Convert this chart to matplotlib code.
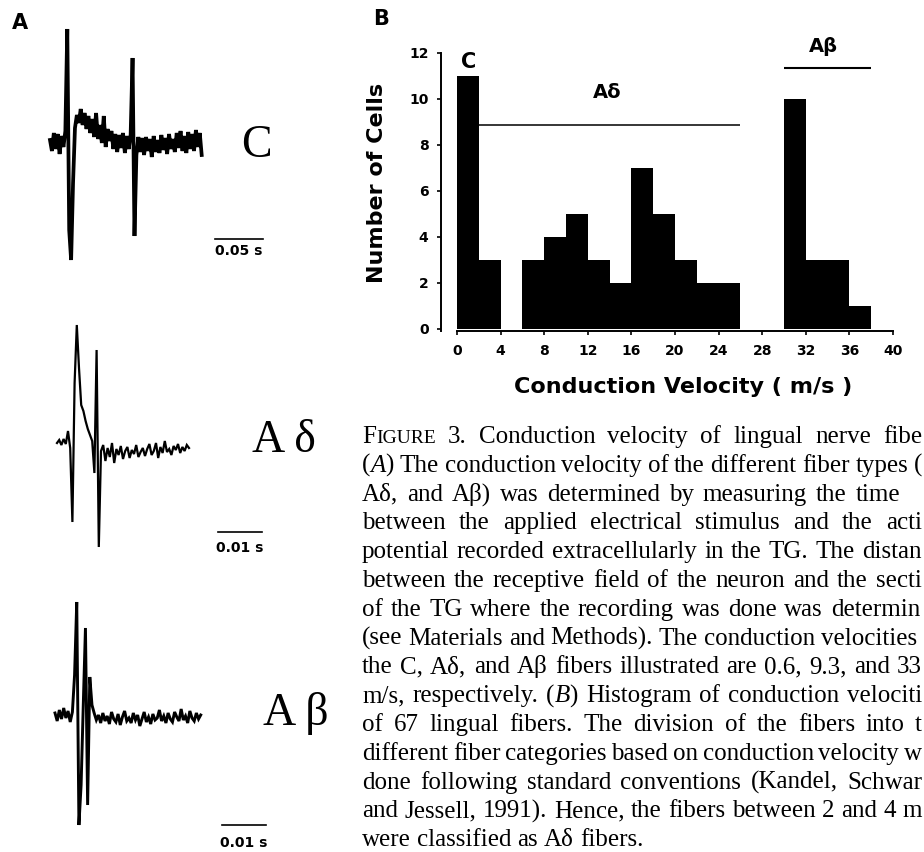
import re
import numpy as np
import matplotlib
matplotlib.use('Agg')
import matplotlib.pyplot as plt

W, H = 924, 852

# conduction velocity histogram, 2 m/s bins
bin_edges = np.arange(0, 40, 2)
cell_counts = [11, 3, 0, 3, 4, 5, 3, 2, 7, 5, 3, 2, 2, 0, 0, 10, 3, 3, 1, 0]

# example recordings (arbitrary units, baseline = 0)
c_dt = 2.0  # ms
c_trace = [3, -8, 10, -6, 9, -11, 7, -4, 12, 114, -87, -117, -40, 15,
           28, 20, 34, 18, 30, 14, 27, 10, 24, 6, 30, 4, 18, 0, 27, -4,
           14, 2, 12, -6, 9, -9, 8, -5, 10, -10, 7, -6, 8, 85, -93, -12,
           6, -9, 5, -12, 6, -8, 4, -14, 7, -9, 3, -10, 8, -7, 5, -11,
           9, -6, 4, -9, 10, -5, 12, -8, 7, -10, 11, -6, 9, -8, 13, -4,
           10, -12]

ad_dt = 0.5  # ms
ad_trace = [0, 3, -2, 4, -1, 12, -5, -79, 60, 118, 75, 38, 32, 22, 14, 8,
            2, -30, 93, -104, -8,
            -2, -18, -5, -14, 0, -20, -6, -12, -3, -16, -8, -4, -15, -7,
            -11, -2, -14, -9, -5, -13, -6, -1, -12, -8, 0, -15, -4, -10,
            2, -9, -6, -12, -3, -7, -1, -10, -4, -8, -2, -5]

ab_dt = 0.5  # ms
ab_trace = [2, -6, 5, -4, 7, -3, 4, -7, 3, 40, 113, -110, -70, 10, 87,
            -90, 38, 10, 2,
            -5, 0, -8, 2, -6, -1, -9, 3, -4, -7, 1, -10, -2, 4, -6, -3,
            -8, 2, -5, 0, -11, -4, 3, -7, -2, -9, 1, -5, -3, 5, -6, -1,
            -8, 2, -4, -7, 3, -2, -6, 6, -5, -1, -8, 4, -3, -6, 2, -4, 0]

# caption column runs past the page edge; only the part that fits is set
caption = [
    "F{sc:IGURE} 3.  Conduction velocity of lingual nerve fibe",
    "({i:A}) The conduction velocity of the different fiber types (",
    "Aδ, and Aβ) was determined by measuring the time",
    "between the applied electrical stimulus and the acti",
    "potential recorded extracellularly in the TG. The distan",
    "between the receptive field of the neuron and the secti",
    "of the TG where the recording was done was determin",
    "(see Materials and Methods). The conduction velocities",
    "the C, Aδ, and Aβ fibers illustrated are 0.6, 9.3, and 33",
    "m/s, respectively. ({i:B}) Histogram of conduction velociti",
    "of 67 lingual fibers. The division of the fibers into t",
    "different fiber categories based on conduction velocity w",
    "done following standard conventions (Kandel, Schwar",
    "and Jessell, 1991). Hence, the fibers between 2 and 4 m",
    "were classified as Aδ fibers.",
]
caption_right = [922, 922, 900, 922, 922, 922, 920, 917, 922, 922, 922,
                 922, 922, 922, None]

fig = plt.figure(figsize=(W / 100, H / 100), dpi=100)
fig.patch.set_facecolor('white')


def fx(px):
    return px / W


def fy(py):
    return 1 - py / H


def draw_trace(values, dt, lw, ox, oy, sx, bar_t0, bar_len, bar_py,
               bar_text, text_py, name, name_px, name_py):
    # full-figure transparent axes: t in ms, amplitude in px-like units
    ax = fig.add_axes([0, 0, 1, 1])
    ax.set_xlim(-ox / sx, (W - ox) / sx)
    ax.set_ylim(oy - H, oy)
    ax.axis('off')
    t = np.arange(len(values)) * dt
    ax.plot(t, values, color='k', lw=lw, solid_joinstyle='miter')
    bar_v = oy - bar_py
    ax.plot([bar_t0, bar_t0 + bar_len], [bar_v, bar_v], color='k', lw=1.2)
    ax.text(bar_t0 + bar_len / 2, oy - text_py, bar_text, ha='center',
            va='center', fontsize=10, fontweight='bold', family='DejaVu Sans')
    fig.text(fx(name_px), fy(name_py), name, ha='center', va='baseline',
             fontsize=33, family='Liberation Serif')


draw_trace(c_trace, c_dt, 2.7, 50, 143, 0.96, 171.9, 50, 239, '0.05 s', 251,
           'C', 256, 157)
draw_trace(ad_trace, ad_dt, 1.6, 57, 443, 4.4, 36.6, 10, 532, '0.01 s', 548,
           'A δ', 284, 452)
draw_trace(ab_trace, ab_dt, 2.1, 55, 715, 4.35, 38.4, 10, 825, '0.01 s', 843,
           'A β', 296, 725)

fig.text(fx(20), fy(23), 'A', fontsize=15, fontweight='bold',
         ha='center', va='center')
fig.text(fx(381), fy(19), 'B', fontsize=15, fontweight='bold',
         ha='center', va='center')

# histogram
ax = fig.add_axes([fx(441), fy(331.3), (893 - 441) / W, (331.3 - 53) / H])
ax.bar(bin_edges, cell_counts, width=2, align='edge', color='k',
       edgecolor='none')
ax.set_xlim(-1.47, 40)
ax.set_ylim(-0.1, 12)
for side in ['top', 'right']:
    ax.spines[side].set_visible(False)
ax.spines['bottom'].set_bounds(0, 40)
ax.spines['left'].set_linewidth(1.4)
ax.spines['bottom'].set_linewidth(1.4)
ax.set_xticks(np.arange(0, 41, 4))
ax.set_yticks(np.arange(0, 13, 2))
ax.tick_params(length=3, width=1.2, labelsize=10, pad=6)
for lab in ax.get_xticklabels() + ax.get_yticklabels():
    lab.set_fontweight('bold')
ax.set_xlabel('Conduction Velocity ( m/s )', fontsize=16,
              fontweight='bold')
ax.set_ylabel('Number of Cells', fontsize=16, fontweight='bold')
ax.xaxis.set_label_coords(0.535, -0.164)
ax.yaxis.set_label_coords(-0.12, 0.533)
ax.hlines(8.87, 2, 26, color='k', lw=1.1)
ax.hlines(11.35, 30, 38, color='k', lw=1.5, clip_on=False)
ax.text(1.1, 11.6, 'C', fontsize=15, fontweight='bold', ha='center',
        va='center', clip_on=False)
ax.text(13.8, 10.3, 'Aδ', fontsize=14, fontweight='bold', ha='center',
        va='center')
ax.text(33.6, 12.3, 'Aβ', fontsize=14, fontweight='bold', ha='center',
        va='center', clip_on=False)

# justified caption
renderer = fig.canvas.get_renderer()
cap_left = 362
cap_size = 18


def split_pieces(word):
    out = []
    for m in re.finditer(r'\{(i|sc):([^}]*)\}|([^{]+)', word):
        if m.group(3):
            out.append((m.group(3), 'normal'))
        else:
            out.append((m.group(2), m.group(1)))
    return out


def caption_line(text, py, right):
    groups = []
    for word in text.split():
        group = []
        for s, kind in split_pieces(word):
            size = cap_size * 0.78 if kind == 'sc' else cap_size
            style = 'italic' if kind == 'i' else 'normal'
            t = fig.text(0, fy(py), s, fontsize=size, fontstyle=style,
                         family='Liberation Serif', va='baseline',
                         ha='left')
            group.append((t, t.get_window_extent(renderer).width))
        groups.append(group)
    total = sum(w for g in groups for _, w in g)
    gap = 6.0
    if right is not None and len(groups) > 1:
        gap = (right - cap_left - total) / (len(groups) - 1)
    x = cap_left
    for g in groups:
        for t, w in g:
            t.set_x(fx(x))
            x += w
        x += gap


for i, line in enumerate(caption):
    caption_line(line, 443 + i * 28.8, caption_right[i])

fig.savefig('out.png', dpi=100)
